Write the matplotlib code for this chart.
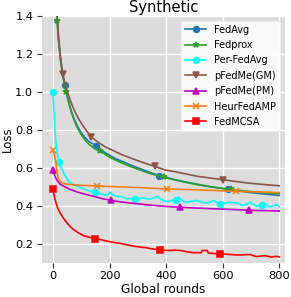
import matplotlib
matplotlib.use("Agg")
import matplotlib.pyplot as plt

# ---------------------------------------------------------------------------
# data (global round -> loss)
# ---------------------------------------------------------------------------
fedavg_x = [0, 5, 10, 15, 20, 27, 35, 42, 50, 57, 65, 74, 85, 98, 112, 127, 140,
            154, 175, 197, 220, 245, 275, 303, 340, 374, 400, 432, 470, 510, 550,
            590, 618, 650, 700, 750, 800]
fedavg_y = [2.5, 1.9, 1.5, 1.37, 1.27, 1.17, 1.09, 1.035, 0.98, 0.94, 0.90, 0.862,
            0.825, 0.79, 0.762, 0.739, 0.728, 0.718, 0.69, 0.669, 0.65, 0.634,
            0.615, 0.599, 0.578, 0.56, 0.55, 0.538, 0.526, 0.514, 0.503, 0.494,
            0.488, 0.48, 0.47, 0.462, 0.455]
fedavg_marks = [42, 154, 374, 618]

fedprox_x = [0, 5, 10, 15, 20, 27, 35, 47, 57, 65, 74, 85, 98, 112, 127, 145, 166,
             197, 220, 245, 275, 303, 340, 394, 432, 470, 510, 550, 590, 629, 660,
             700, 750, 800]
fedprox_y = [2.5, 1.9, 1.5, 1.375, 1.27, 1.165, 1.08, 1.0, 0.935, 0.893, 0.855,
             0.815, 0.78, 0.75, 0.725, 0.705, 0.69, 0.66, 0.642, 0.625, 0.607,
             0.592, 0.572, 0.55, 0.536, 0.524, 0.512, 0.502, 0.493, 0.488, 0.482,
             0.475, 0.469, 0.464]
fedprox_marks = [15, 47, 166, 394, 629]

perfed_x = [0, 3, 6, 10, 15, 21, 27, 33, 45, 56, 62, 68, 76, 86, 97, 109, 120, 133,
            147, 158, 168, 176, 186, 195, 203, 212, 221, 233, 245, 253, 262, 280,
            291, 309, 321, 333, 344, 356, 368, 380, 391, 397, 412, 423, 436, 444,
            456, 468, 488, 509, 527, 544, 556, 567, 580, 591, 605, 620, 635, 650,
            662, 673, 685, 697, 708, 720, 738, 744, 755, 767, 779, 791, 800]
perfed_y = [1.0, 0.92, 0.83, 0.745, 0.68, 0.632, 0.605, 0.588, 0.555, 0.529, 0.52,
            0.514, 0.51, 0.503, 0.497, 0.489, 0.484, 0.477, 0.471, 0.468, 0.463,
            0.46, 0.457, 0.462, 0.473, 0.458, 0.452, 0.45, 0.449, 0.442, 0.436,
            0.44, 0.438, 0.44, 0.442, 0.438, 0.436, 0.443, 0.45, 0.437, 0.429,
            0.424, 0.424, 0.43, 0.432, 0.447, 0.43, 0.419, 0.424, 0.429, 0.42,
            0.415, 0.42, 0.429, 0.418, 0.408, 0.412, 0.419, 0.417, 0.415, 0.408,
            0.401, 0.41, 0.419, 0.408, 0.398, 0.404, 0.413, 0.404, 0.394, 0.4,
            0.407, 0.395]
perfed_marks = [0, 21, 147, 291, 436, 591, 738]

gm_x = [0, 5, 10, 15, 20, 27, 35, 45, 57, 68, 80, 92, 104, 120, 136, 160, 186, 215,
        245, 270, 291, 325, 360, 400, 432, 470, 510, 550, 600, 650, 691, 750, 800]
gm_y = [2.6, 2.0, 1.55, 1.40, 1.29, 1.18, 1.095, 1.03, 0.975, 0.93, 0.89, 0.855,
        0.827, 0.793, 0.762, 0.735, 0.71, 0.69, 0.669, 0.655, 0.643, 0.625, 0.608,
        0.588, 0.58, 0.568, 0.556, 0.548, 0.538, 0.528, 0.52, 0.512, 0.506]
gm_marks = [35, 136, 360, 600]

pm_x = [0, 4, 8, 15, 25, 39, 60, 86, 115, 145, 175, 206, 239, 280, 320, 360, 400,
        450, 500, 550, 600, 650, 694, 750, 800]
pm_y = [0.591, 0.57, 0.553, 0.534, 0.515, 0.503, 0.487, 0.473, 0.461, 0.45, 0.438,
        0.429, 0.421, 0.414, 0.408, 0.402, 0.397, 0.393, 0.389, 0.386, 0.383,
        0.380, 0.377, 0.375, 0.373]
pm_marks = [0, 206, 450, 694]

heur_x = [0, 3, 6, 10, 14, 18, 25, 33, 45, 62, 90, 120, 156, 200, 240, 300, 350,
          403, 450, 500, 550, 600, 647, 700, 750, 800]
heur_y = [0.696, 0.68, 0.66, 0.635, 0.585, 0.547, 0.53, 0.521, 0.516, 0.512, 0.509,
          0.507, 0.505, 0.502, 0.50, 0.497, 0.493, 0.489, 0.487, 0.485, 0.482,
          0.479, 0.477, 0.475, 0.472, 0.47]
heur_marks = [0, 156, 403, 647]

mcsa_x = [0, 5, 10, 18, 25, 33, 42, 51, 62, 74, 90, 109, 130, 150, 170, 192, 215,
          239, 262, 285, 310, 333, 344, 360, 377, 395, 415, 432, 450, 462, 474,
          485, 497, 510, 524, 527, 546, 549, 570, 591, 608, 626, 645, 661, 680,
          697, 708, 720, 735, 750, 762, 773, 785, 797, 800]
mcsa_y = [0.489, 0.45, 0.42, 0.385, 0.365, 0.345, 0.325, 0.308, 0.29, 0.274, 0.258,
          0.243, 0.234, 0.228, 0.222, 0.214, 0.208, 0.202, 0.195, 0.188, 0.183,
          0.179, 0.175, 0.172, 0.168, 0.166, 0.165, 0.167, 0.165, 0.162, 0.158,
          0.156, 0.153, 0.154, 0.153, 0.165, 0.165, 0.152, 0.149, 0.147, 0.146,
          0.144, 0.142, 0.141, 0.143, 0.144, 0.138, 0.133, 0.136, 0.138, 0.134,
          0.13, 0.134, 0.133, 0.131]
mcsa_marks = [0, 150, 377, 591]

SERIES = [
    ("FedAvg",      fedavg_x,  fedavg_y,  fedavg_marks,  "#1f77b4", "o"),
    ("Fedprox",     fedprox_x, fedprox_y, fedprox_marks, "#2ca02c", "*"),
    ("Per-FedAvg",  perfed_x,  perfed_y,  perfed_marks,  "cyan",    "o"),
    ("pFedMe(GM)",  gm_x,      gm_y,      gm_marks,      "#8c564b", "v"),
    ("pFedMe(PM)",  pm_x,      pm_y,      pm_marks,      "m",       "^"),
    ("HeurFedAMP",  heur_x,    heur_y,    heur_marks,    "#ff7f0e", "x"),
    ("FedMCSA",     mcsa_x,    mcsa_y,    mcsa_marks,    "r",       "s"),
]

fig = plt.figure(figsize=(2.91, 2.97), dpi=100)
ax = fig.add_axes([0.143, 0.115, 0.836, 0.831])
ax.set_facecolor("#dcdcdc")
ax.grid(True, color="white", lw=1.0)
ax.set_axisbelow(True)
for s in ax.spines.values():
    s.set_visible(False)

for label, xs, ys, marks, col, mk in SERIES:
    idx = [xs.index(m) for m in marks]
    ax.plot(xs, ys, color=col, lw=1.2, marker=mk, markevery=idx,
            markersize=4.2 if mk != "x" else 4, mew=1.1, label=label)

ax.set_xlim(-40, 820)
ax.set_ylim(0.1, 1.4)
ax.set_xticks([0, 200, 400, 600, 800])
ax.set_yticks([0.2, 0.4, 0.6, 0.8, 1.0, 1.2, 1.4])
ax.tick_params(labelsize=8.2, length=3.5, color="0.2", pad=2.5)
ax.set_xlabel("Global rounds", fontsize=8.7, labelpad=1)
ax.set_ylabel("Loss", fontsize=8.5)
ax.yaxis.set_label_coords(-0.112, 0.5)
ax.set_title("Synthetic", fontsize=10.5, pad=3)
ax.legend(fontsize=7, loc="upper right", framealpha=0.85, edgecolor="#eeeeee",
          borderpad=0.4, labelspacing=0.55, handlelength=2.2)

fig.savefig("out.png", dpi=100)
